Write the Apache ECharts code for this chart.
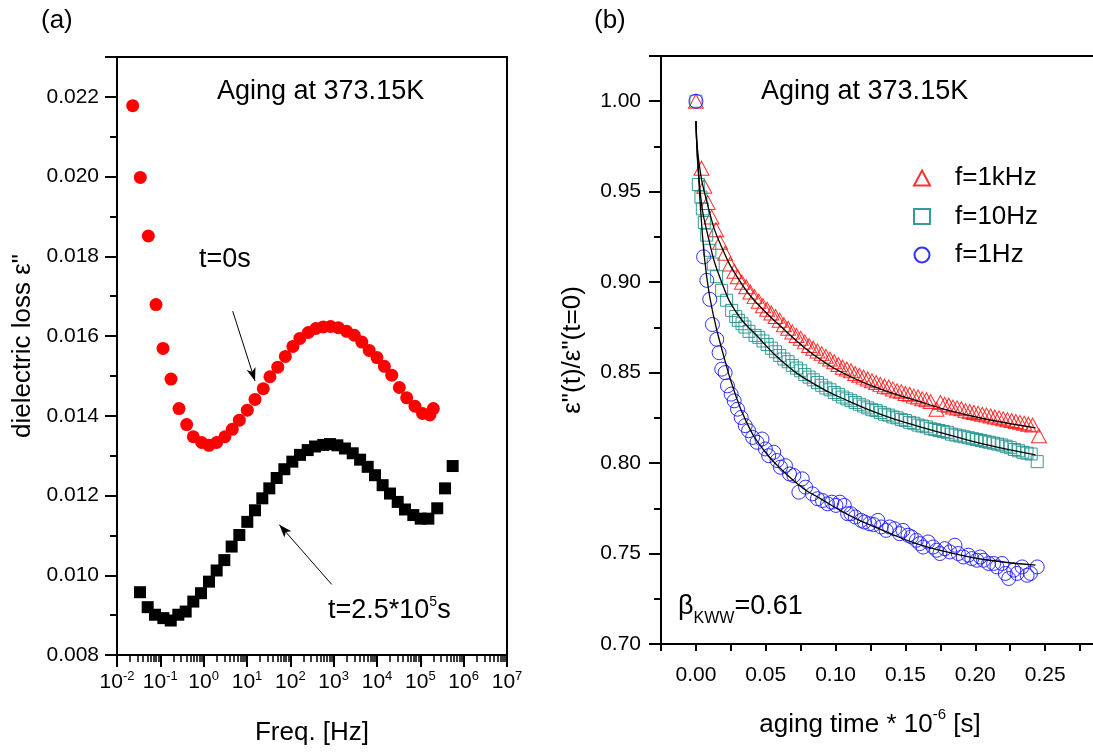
<!DOCTYPE html>
<html><head><meta charset="utf-8">
<script src="https://cdn.jsdelivr.net/npm/echarts@6/dist/echarts.min.js"></script>
<style>html,body{margin:0;padding:0;background:#fff}#c{width:1093px;height:752px}</style>
</head><body><div id="c"></div>
<script>
// ---------- panel (a): dielectric loss vs frequency ----------
const freqExpT0 = [-1.638,-1.462,-1.277,-1.100,-0.938,-0.754,-0.569,-0.392,-0.239,-0.046,0.123,0.300,0.490,0.660,0.823,1.007,1.185,1.376,1.530,1.710,1.885,2.060,2.220,2.415,2.590,2.760,2.930,3.107,3.300,3.477,3.650,3.820,4.000,4.170,4.340,4.515,4.685,4.877,5.050,5.220,5.300];
const lossT0 = [0.02178,0.01998,0.01851,0.01679,0.01569,0.01492,0.01418,0.01378,0.013475,0.01333,0.01326,0.01333,0.013475,0.01366,0.01389,0.01414,0.01441,0.01468,0.01498,0.01522,0.01549,0.01574,0.01594,0.01609,0.01619,0.01623,0.01624,0.01621,0.01612,0.01602,0.01585,0.01564,0.01546,0.01524,0.01502,0.01471,0.01445,0.01424,0.01406,0.01402,0.01418];
const freqExpAged = [-1.469,-1.292,-1.123,-0.930,-0.760,-0.585,-0.415,-0.239,-0.062,0.123,0.300,0.477,0.646,0.823,1.007,1.185,1.353,1.515,1.685,1.862,2.046,2.223,2.400,2.570,2.760,2.915,3.085,3.260,3.440,3.610,3.785,3.954,4.130,4.300,4.478,4.646,4.838,5.008,5.185,5.390,5.570,5.746];
const lossAged = [0.009575,0.00920,0.00901,0.008925,0.008865,0.00901,0.00909,0.00934,0.00955,0.00984,0.01012,0.01038,0.01072,0.01101,0.01134,0.01163,0.01193,0.01218,0.01244,0.01266,0.01285,0.01302,0.01314,0.01323,0.01327,0.01329,0.01326,0.01318,0.01306,0.01290,0.01272,0.01251,0.01226,0.01205,0.01184,0.01165,0.01151,0.01142,0.01142,0.01168,0.01218,0.01274];
// arrows: [log10(freq), loss] tail -> head
const arrowT0 = [[0.670, 0.016625], [1.185, 0.014875]];
const arrowAged = [[2.955, 0.00977], [1.746, 0.01127]];
const leftYTicks = {min: 0.008, max: 0.023, interval: 0.002};
const leftXDecades = {min: -2, max: 7};

// ---------- panel (b): normalized loss vs aging time ----------
const tri1kHz = [[0,1.000],[0.0040,0.963],[0.0060,0.953],[0.0084,0.944],[0.0112,0.936],[0.0144,0.929],[0.0173,0.922],[0.0209,0.916],[0.0245,0.910],[0.0275,0.906],[0.0300,0.903],[0.0330,0.900],
[0.036,0.8975],[0.039,0.8945],[0.042,0.892],[0.045,0.8895],[0.048,0.887],[0.051,0.885],[0.054,0.883],[0.057,0.881],[0.060,0.879],[0.063,0.8765],[0.066,0.8745],[0.069,0.8725],[0.072,0.8705],[0.075,0.869],[0.078,0.867],[0.081,0.865],[0.084,0.8635],[0.087,0.862],[0.090,0.8605],[0.093,0.859],[0.096,0.8575],[0.099,0.856],[0.102,0.8545],[0.105,0.853],[0.108,0.852],[0.111,0.851],[0.114,0.8495],[0.117,0.8485],[0.120,0.8475],[0.123,0.8465],[0.126,0.8455],[0.129,0.8445],[0.132,0.8435],[0.135,0.8425],[0.138,0.842],[0.141,0.841],[0.144,0.840],[0.147,0.8395],[0.150,0.8385],[0.153,0.838],[0.156,0.837],[0.159,0.8365],[0.162,0.8355],[0.165,0.835],[0.168,0.834],[0.1722,0.8298],[0.175,0.8335],[0.178,0.8325],[0.181,0.832],[0.184,0.831],[0.187,0.8305],[0.190,0.830],[0.193,0.829],[0.196,0.8285],[0.199,0.828],[0.202,0.8275],[0.205,0.827],[0.208,0.8265],[0.211,0.826],[0.214,0.8255],[0.217,0.825],[0.220,0.8245],[0.223,0.824],[0.226,0.8235],[0.229,0.823],[0.232,0.8225],[0.235,0.822],[0.238,0.8215],[0.241,0.821],[0.2455,0.8151]];
const sq10Hz = [[0,1.000],[0.0017,0.954],[0.0036,0.947],[0.0046,0.9405],[0.0060,0.933],[0.0077,0.926],[0.0100,0.9176],[0.0124,0.910],[0.0148,0.903],[0.0184,0.8955],[0.0220,0.890],[0.0256,0.8844],[0.0285,0.881],[0.0304,0.8789],[0.0330,0.877],[0.0351,0.8752],[0.038,0.8728],[0.0423,0.8706],
[0.045,0.8695],[0.048,0.8675],[0.051,0.8655],[0.054,0.8635],[0.057,0.8615],[0.060,0.8595],[0.063,0.8575],[0.066,0.856],[0.069,0.854],[0.072,0.8525],[0.075,0.851],[0.078,0.849],[0.081,0.8475],[0.084,0.846],[0.087,0.8445],[0.090,0.843],[0.093,0.8415],[0.096,0.8405],[0.099,0.839],[0.102,0.838],[0.105,0.8365],[0.108,0.8355],[0.111,0.8345],[0.114,0.8335],[0.117,0.8325],[0.120,0.8315],[0.123,0.8305],[0.126,0.8295],[0.129,0.829],[0.132,0.828],[0.135,0.827],[0.138,0.8265],[0.141,0.8255],[0.144,0.825],[0.147,0.824],[0.150,0.8235],[0.153,0.8225],[0.156,0.822],[0.159,0.821],[0.162,0.8205],[0.165,0.820],[0.168,0.819],[0.171,0.8185],[0.174,0.818],[0.177,0.8175],[0.180,0.817],[0.183,0.816],[0.186,0.8155],[0.189,0.815],[0.192,0.8145],[0.195,0.814],[0.198,0.8135],[0.201,0.813],[0.204,0.8125],[0.207,0.812],[0.210,0.8115],[0.213,0.811],[0.216,0.8105],[0.219,0.810],[0.222,0.8093],[0.225,0.8085],[0.228,0.8075],[0.231,0.8068],[0.234,0.806],[0.237,0.8055],[0.240,0.805],[0.2443,0.8008]];
const circ1Hz = [[0,1.000],[0.0055,0.914],[0.0078,0.901],[0.0099,0.8905],[0.0118,0.8766],[0.0149,0.8684],[0.0166,0.8610],[0.0185,0.8519],[0.0209,0.8500],[0.0226,0.8427],[0.0252,0.8381],[0.0274,0.8344],[0.0298,0.8298],[0.0324,0.8252],[0.0353,0.8207],[0.0377,0.8179],[0.0406,0.8142],[0.0437,0.8115],[0.0473,0.8133],[0.0497,0.8078],[0.0521,0.8041],[0.0557,0.8060],[0.0581,0.8014],[0.0605,0.7977],[0.0641,0.7986],[0.0670,0.7940],[0.0701,0.7931],[0.0737,0.7839],[0.0761,0.7913],[0.0785,0.7867],[0.0834,0.7830],[0.0870,0.7803],[0.0906,0.7793],[0.0942,0.7775],[0.0973,0.7784],[0.1002,0.7766],[0.1030,0.7784],[0.1062,0.7766],[0.1086,0.7720],[0.1110,0.7720],[0.1141,0.7702],[0.1182,0.7683],[0.1206,0.7674],[0.1242,0.7665],[0.1272,0.7660],[0.1302,0.7683],[0.1326,0.7647],[0.1362,0.7628],[0.1386,0.7647],[0.1422,0.7637],[0.1458,0.7610],[0.1482,0.7628],[0.1518,0.7601],[0.1542,0.7592],[0.1578,0.7573],[0.1602,0.7555],[0.1626,0.7536],[0.1662,0.7564],[0.1698,0.7536],[0.1722,0.7518],[0.1746,0.7500],[0.1782,0.7527],[0.1818,0.7509],[0.1854,0.7546],[0.1878,0.7500],[0.1914,0.7481],[0.1950,0.7491],[0.1975,0.7472],[0.2011,0.7463],[0.2035,0.7481],[0.2059,0.7463],[0.2095,0.7445],[0.2131,0.7445],[0.2155,0.7426],[0.2191,0.7445],[0.2215,0.7390],[0.2239,0.7362],[0.2275,0.7408],[0.2299,0.7390],[0.2335,0.7426],[0.2371,0.7380],[0.2395,0.7390],[0.2443,0.7426]];
const fit1kHz = [[0,0.989],[0.0017,0.969],[0.0088,0.9415],[0.0184,0.9194],[0.0327,0.899],[0.0435,0.8885],[0.065,0.8725],[0.085,0.8595],[0.11,0.848],[0.1338,0.8405],[0.158,0.8345],[0.1818,0.8289],[0.206,0.8245],[0.2431,0.8194]];
const fit10Hz = [[0,0.989],[0.0029,0.951],[0.0088,0.925],[0.0184,0.900],[0.030,0.882],[0.0435,0.8705],[0.062,0.856],[0.085,0.8435],[0.11,0.834],[0.1338,0.8265],[0.158,0.8205],[0.1818,0.8155],[0.206,0.8105],[0.2431,0.8045]];
const fit1Hz = [[0,0.989],[0.0012,0.969],[0.0041,0.932],[0.0077,0.903],[0.0124,0.882],[0.0196,0.860],[0.0267,0.8415],[0.0363,0.8225],[0.0482,0.8075],[0.0625,0.7955],[0.0769,0.786],[0.0888,0.7805],[0.1098,0.7711],[0.1338,0.7628],[0.1578,0.7555],[0.1818,0.7505],[0.2059,0.7467],[0.2431,0.7436]];
const seriesNames = ['f=1kHz', 'f=10Hz', 'f=1Hz'];
const rightYTicks = {min: 0.70, max: 1.025, interval: 0.05};
const rightXTicks = {min: -0.025, max: 0.30, interval: 0.025};

// ---------- chart ----------
const FONT = '"Liberation Sans", Arial, Helvetica, sans-serif';
const BLACK = '#000';
const RED = '#ff1a1a', TEAL = '#1f918c', BLUE = '#1a1aff';

const minorLogTicks = [];
for (let d = leftXDecades.min; d < leftXDecades.max; d++) {
  for (let k = 2; k <= 9; k++) minorLogTicks.push(d + Math.log10(k));
}
const toLog = (exps, vals) => exps.map((e, i) => [Math.pow(10, e), vals[i]]);
const arrowData = a => [{coord: [Math.pow(10, a[0][0]), a[0][1]]}, {coord: [Math.pow(10, a[1][0]), a[1][1]]}];

const tickLabel = {color: BLACK, fontFamily: FONT, fontSize: 21};
const nameStyle = {color: BLACK, fontFamily: FONT, fontSize: 26, lineHeight: 30};

function txt(x, y, text, size, rich) {
  return {type: 'text', x: x, y: y, silent: true,
    style: {text: text, fontSize: size, fontFamily: FONT, fill: BLACK, verticalAlign: 'middle', align: 'left', rich: rich}};
}
function fitLine(data) {
  return {type: 'line', xAxisIndex: 2, yAxisIndex: 1, data: data, showSymbol: false, smooth: 0.5,
    lineStyle: {color: BLACK, width: 1.3}, itemStyle: {color: BLACK}, z: 5};
}

const chart = echarts.init(document.getElementById('c'), null, {renderer: 'canvas'});
chart.setOption({
  animation: false,
  backgroundColor: '#fff',
  grid: [
    {left: 117, top: 57, width: 390, height: 598, outerBoundsMode: 'none', containLabel: false,
     show: true, borderColor: BLACK, borderWidth: 2, backgroundColor: 'transparent'},
    {left: 661, top: 56, width: 454, height: 588, outerBoundsMode: 'none', containLabel: false,
     show: true, borderColor: BLACK, borderWidth: 2, backgroundColor: 'transparent'}
  ],
  xAxis: [
    {type: 'log', gridIndex: 0, position: 'bottom', logBase: 10,
     min: Math.pow(10, leftXDecades.min), max: Math.pow(10, leftXDecades.max), splitNumber: 9,
     axisLine: {show: true, lineStyle: {color: BLACK, width: 2}},
     axisTick: {show: true, length: 12, lineStyle: {color: BLACK, width: 2}},
     splitLine: {show: false},
     axisLabel: {margin: 15, formatter: v => '{b|10}{s|' + Math.round(Math.log10(v)) + '}',
       rich: {b: {fontSize: 21, lineHeight: 24, fontFamily: FONT, color: BLACK},
              s: {fontSize: 13, lineHeight: 12, verticalAlign: 'top', fontFamily: FONT, color: BLACK}}},
     name: 'Freq. [Hz]', nameLocation: 'middle', nameGap: 63, nameTextStyle: nameStyle},
    {type: 'value', gridIndex: 0, position: 'bottom', min: leftXDecades.min, max: leftXDecades.max, interval: 1,
     axisLine: {show: false}, axisLabel: {show: false}, splitLine: {show: false},
     axisTick: {show: true, length: 7, customValues: minorLogTicks, lineStyle: {color: BLACK, width: 1.5}}},
    {type: 'value', gridIndex: 1, position: 'bottom', min: rightXTicks.min, max: rightXTicks.max, interval: rightXTicks.interval,
     axisLine: {show: true, onZero: false, lineStyle: {color: BLACK, width: 2}},
     axisTick: {show: true, length: 7, lineStyle: {color: BLACK, width: 2}},
     splitLine: {show: false},
     axisLabel: Object.assign({margin: 19, lineHeight: 24, formatter: v => {
       const k = Math.round(v * 1000);
       return (k % 50 === 0 && k >= 0 && k <= 250) ? (k / 1000).toFixed(2) : '';
     }}, tickLabel),
     name: 'aging time * 10{sup|-6} [s]', nameLocation: 'middle', nameGap: 63,
     nameTextStyle: {color: BLACK, fontFamily: FONT, fontSize: 26, lineHeight: 36, padding: [0, 36, 0, 0],
       rich: {sup: {fontSize: 15, lineHeight: 15, verticalAlign: 'top', fontFamily: FONT, color: BLACK}}}}
  ],
  yAxis: [
    {type: 'value', gridIndex: 0, min: leftYTicks.min, max: leftYTicks.max, interval: leftYTicks.interval,
     axisLine: {show: true, onZero: false, lineStyle: {color: BLACK, width: 2}},
     axisTick: {show: true, length: 12, lineStyle: {color: BLACK, width: 2}},
     minorTick: {show: true, splitNumber: 2, length: 7, lineStyle: {color: BLACK, width: 2}},
     splitLine: {show: false}, minorSplitLine: {show: false},
     axisLabel: Object.assign({margin: 18, formatter: v => (v > 0.0225 ? '' : v.toFixed(3))}, tickLabel),
     name: 'dielectric loss ε"', nameLocation: 'middle', nameGap: 79,
     nameTextStyle: Object.assign({padding: [0, 0, 0, 20]}, nameStyle)},
    {type: 'value', gridIndex: 1, min: rightYTicks.min, max: rightYTicks.max, interval: rightYTicks.interval,
     axisLine: {show: true, onZero: false, lineStyle: {color: BLACK, width: 2}},
     axisTick: {show: true, length: 12, lineStyle: {color: BLACK, width: 2}},
     minorTick: {show: true, splitNumber: 2, length: 7, lineStyle: {color: BLACK, width: 2}},
     splitLine: {show: false}, minorSplitLine: {show: false},
     axisLabel: Object.assign({margin: 20, formatter: v => (v > 1.001 ? '' : v.toFixed(2))}, tickLabel),
     name: 'ε"(t)/ε"(t=0)', nameLocation: 'middle', nameGap: 73, nameTextStyle: nameStyle}
  ],
  legend: {
    orient: 'vertical', left: 908, top: 160, itemWidth: 16, itemHeight: 15, itemGap: 12.5,
    selectedMode: false, data: seriesNames,
    textStyle: {color: BLACK, fontFamily: FONT, fontSize: 26, lineHeight: 24, padding: [0, 0, 0, 20]}
  },
  series: [
    {type: 'scatter', xAxisIndex: 0, yAxisIndex: 0, symbol: 'circle', symbolSize: 13,
     itemStyle: {color: '#ff0000', opacity: 1}, data: toLog(freqExpT0, lossT0),
     markLine: {silent: true, animation: false, symbol: ['none', 'arrow'], symbolSize: [7, 13],
       label: {show: false}, lineStyle: {color: BLACK, width: 1, type: 'solid'},
       emphasis: {disabled: true},
       data: [arrowData(arrowT0), arrowData(arrowAged)]}},
    {type: 'scatter', xAxisIndex: 0, yAxisIndex: 0, symbol: 'rect', symbolSize: 12,
     itemStyle: {color: BLACK, opacity: 1}, data: toLog(freqExpAged, lossAged)},
    {name: seriesNames[0], type: 'scatter', xAxisIndex: 2, yAxisIndex: 1, symbol: 'triangle', symbolSize: [15, 14],
     itemStyle: {color: 'rgba(0,0,0,0)', borderColor: RED, borderWidth: 1, opacity: 0.9}, data: tri1kHz},
    {name: seriesNames[1], type: 'scatter', xAxisIndex: 2, yAxisIndex: 1, symbol: 'rect', symbolSize: 12,
     itemStyle: {color: 'rgba(0,0,0,0)', borderColor: TEAL, borderWidth: 1, opacity: 0.9}, data: sq10Hz},
    {name: seriesNames[2], type: 'scatter', xAxisIndex: 2, yAxisIndex: 1, symbol: 'circle', symbolSize: 14,
     itemStyle: {color: 'rgba(0,0,0,0)', borderColor: BLUE, borderWidth: 1, opacity: 0.9}, data: circ1Hz},
    fitLine(fit1kHz), fitLine(fit10Hz), fitLine(fit1Hz)
  ],
  graphic: [
    txt(41, 21, '(a)', 26),
    txt(594, 21, '(b)', 26),
    txt(217, 92, 'Aging at 373.15K', 27),
    txt(761, 92, 'Aging at 373.15K', 27),
    txt(199, 260, 't=0s', 27),
    txt(328, 611, '{n|t=2.5*10}{s|5}{n|s}', 27, {
      n: {fontSize: 27, lineHeight: 32, fontFamily: FONT, fill: BLACK},
      s: {fontSize: 14, lineHeight: 14, verticalAlign: 'top', fontFamily: FONT, fill: BLACK}}),
    txt(678, 607, '{n|β}{sub|KWW}{n|=0.61}', 27, {
      n: {fontSize: 27, lineHeight: 40, fontFamily: FONT, fill: BLACK},
      sub: {fontSize: 16, lineHeight: 16, verticalAlign: 'bottom', fontFamily: FONT, fill: BLACK}})
  ]
});
</script></body></html>
